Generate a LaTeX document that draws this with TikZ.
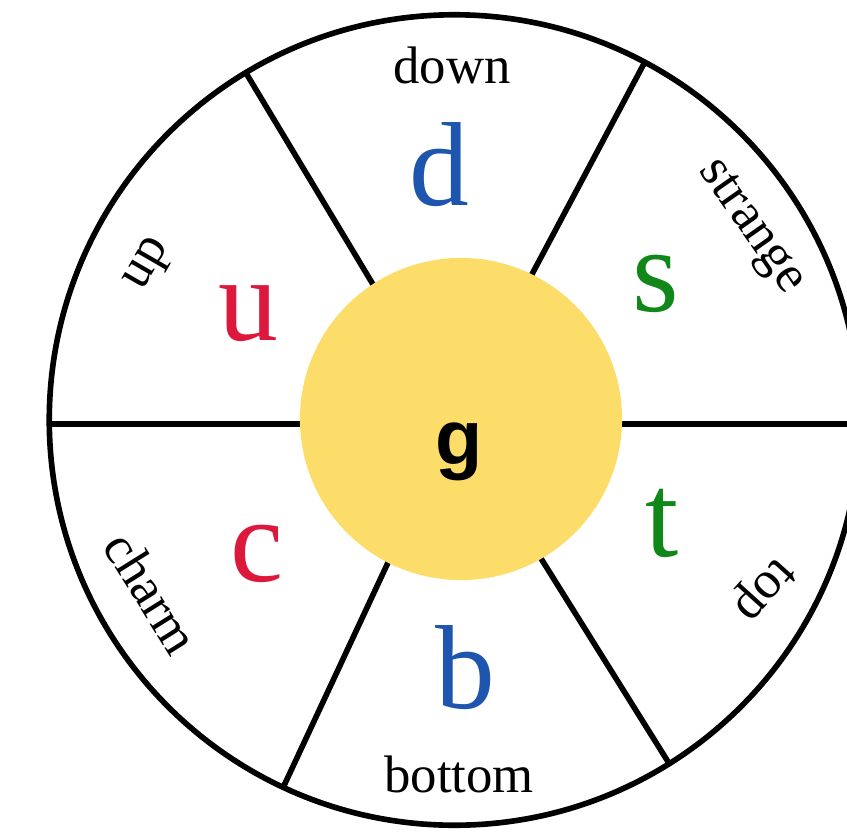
\documentclass[tikz,border=0pt]{standalone}
\usepackage{fontspec}
\setmainfont{Liberation Serif}
\newfontfamily\gluonfont{Liberation Sans}
\definecolor{gold}{RGB}{253,221,106}
\definecolor{qred}{RGB}{220,25,60}
\definecolor{qblue}{RGB}{30,85,175}
\definecolor{qgreen}{RGB}{15,135,25}
\begin{document}
\begin{tikzpicture}[x=0.01cm, y=-0.01cm, line join=round, line cap=round,
    wheel/.style={line width=1.6pt},
    flavour/.style={font=\fontsize{15}{18}\selectfont, inner sep=0pt},
    quark/.style={font=\fontsize{34}{40}\selectfont, anchor=base, inner sep=0pt}]
  \useasboundingbox (0,0) rectangle (847,832);
  \clip (0,0) rectangle (847,832);
  \coordinate (O) at (454.5,420);
  \coordinate (west) at (49.5,424);
  \coordinate (east) at (860,424);
  % outer ring and spokes
  \draw[wheel] (O) circle[radius=4.05cm];
  \draw[wheel] (west) -- (east);
  \draw[wheel] (O) -- ++(-121:405);
  \draw[wheel] (O) -- ++(-62:405);
  \draw[wheel] (O) -- ++(-245:405);
  \draw[wheel] (O) -- ++(-302:405);
  % gluon in the middle
  \node[circle, fill=gold, minimum size=3.22cm, inner sep=0pt] (core) at (461,419) {};
  \node[font=\gluonfont\bfseries\fontsize{22}{26}\selectfont, anchor=base, inner sep=0pt] (g) at (459,464) {g};
  % quarks
  \node[quark, text=qblue] (d) at (439,205) {d};
  \node[quark, text=qred] (u) at (248,340) {u};
  \node[quark, text=qgreen] (s) at (656,311) {s};
  \node[quark, text=qgreen] (t) at (662,556) {t};
  \node[quark, text=qred] (c) at (257,581) {c};
  \node[quark, text=qblue] (b) at (465,708) {b};
  % names on the rim
  \node[flavour, anchor=base] (down) at (452,83) {down};
  \node[flavour, anchor=base] (bottom) at (459,792) {bottom};
  \node[flavour, rotate=-55] (strange) at (750,228) {strange};
  \node[flavour, rotate=228] (top) at (762,588) {top};
  \node[flavour, rotate=-58] (charm) at (152,593) {charm};
  \node[flavour, rotate=60] (up) at (150,265) {up};
\end{tikzpicture}
\end{document}
